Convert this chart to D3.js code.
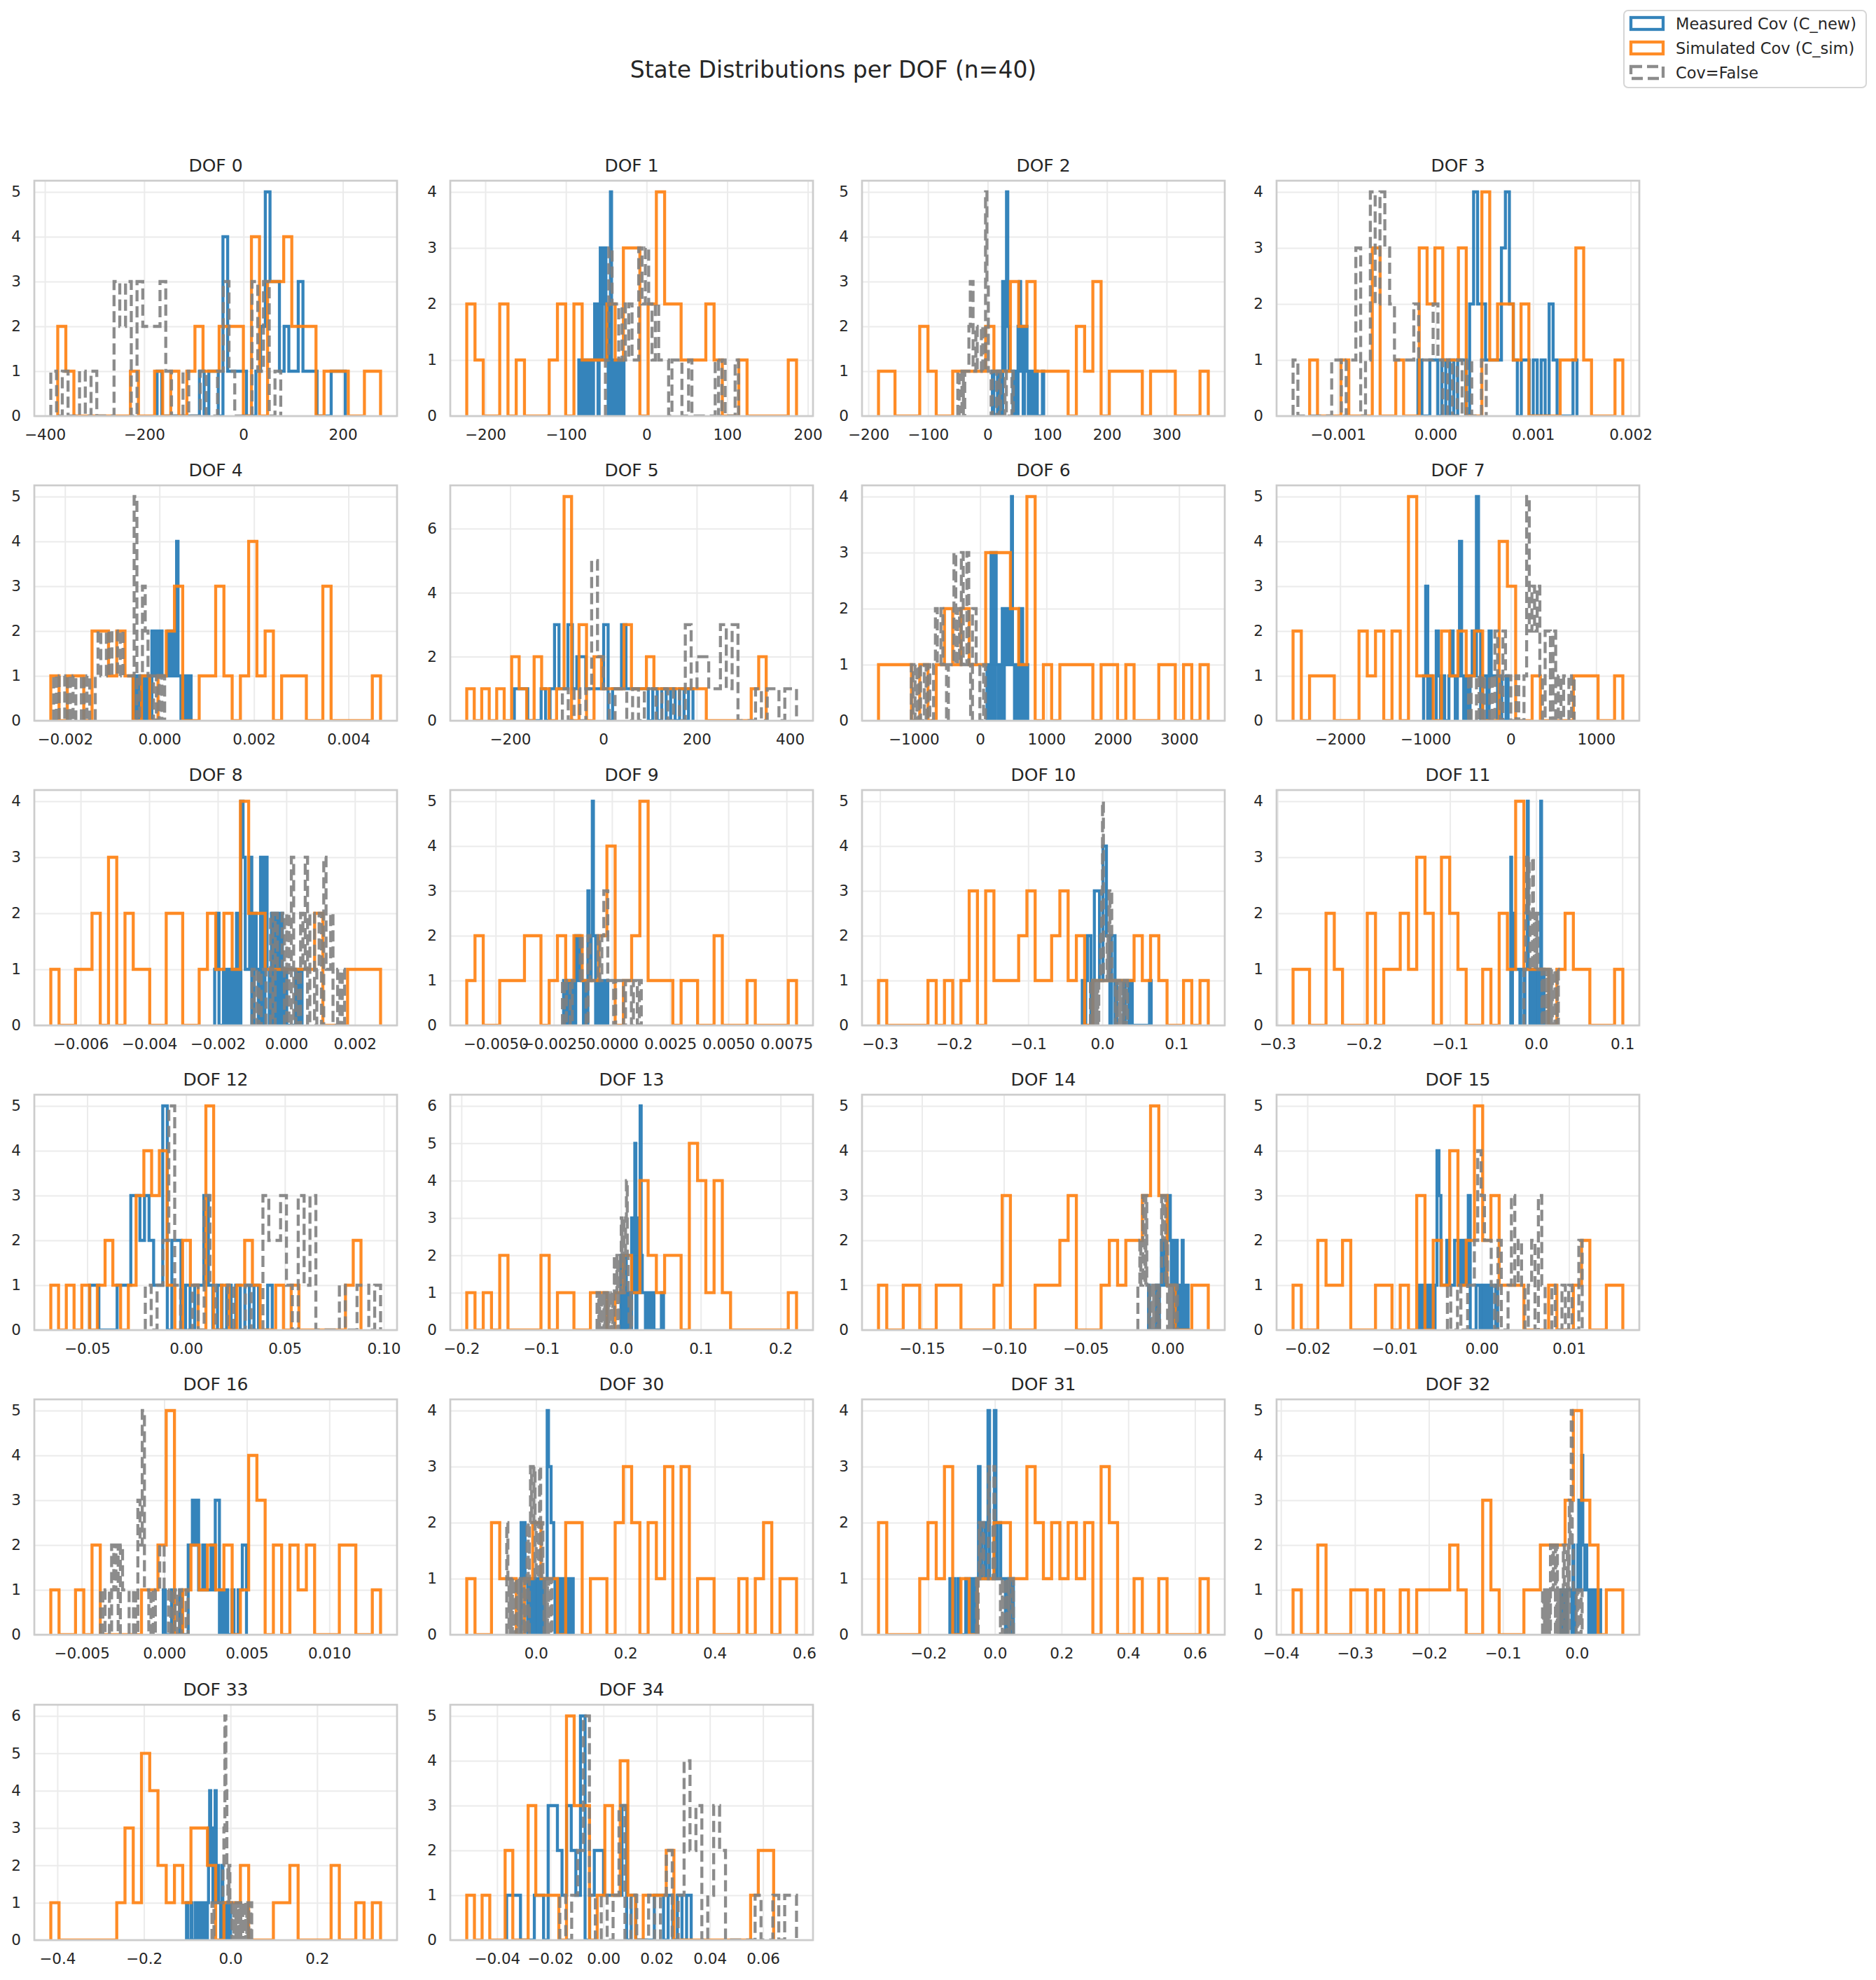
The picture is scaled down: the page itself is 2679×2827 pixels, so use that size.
<!DOCTYPE html>
<html>
<head>
<meta charset="utf-8">
<script src="https://cdn.jsdelivr.net/npm/d3@7"></script>
<style>
  body { margin: 0; background: #fff; }
  svg { display: block; }
  text { font-family: "DejaVu Sans", sans-serif; fill: #262626; }
</style>
</head>
<body>
<div class="chart"></div>
<script>
// panel titles
const dofs = [0, 1, 2, 3, 4, 5, 6, 7, 8, 9, 10, 11, 12, 13, 14, 15, 16, 30, 31, 32, 33, 34];

// x tick spacing per panel (labels are multiples of it)
const xTickSteps = [200, 100, 100, 0.001, 0.002, 200, 1000, 1000, 0.002, 0.0025, 0.1,
    0.1, 0.05, 0.1, 0.05, 0.01, 0.005, 0.2, 0.2, 0.1, 0.2, 0.02];

// Measured Cov (C_new): [min, max] of the samples and counts in 40 bins
const measuredRanges = [[-174, 205], [-84, -28], [8, 94], [-0.00018, 0.00145], [-0.00056, 0.00067],
    [-191, 192], [104, 718], [-1022, -31], [-0.00209, 0.00046], [-0.00208, -0.00018],
    [-0.027, 0.066], [-0.0294, 0.0092], [-0.0487, 0.0436], [0.0, 0.0533], [-0.0116, 0.0126],
    [-0.00715, 0.00182], [-0.00006, 0.00498], [-0.0333, 0.0833], [-0.135, 0.0556],
    [-0.0214, 0.0321], [-0.1017, 0.0], [-0.0364, 0.033]];
const measuredCounts = [
    [1,0,0,0,0,0,0,0,0,1,0,1,1,0,4,1,1,1,1,0,0,1,2,5,3,3,1,2,1,1,3,1,1,1,0,0,0,1,1,1],
    [1,0,1,1,0,0,1,0,1,1,0,1,0,1,2,1,2,0,2,3,1,3,2,3,1,2,0,0,4,1,0,1,0,1,0,1,0,0,1,1],
    [1,0,0,0,1,0,1,0,3,1,3,5,2,1,1,1,0,1,1,0,2,3,1,2,0,1,2,1,0,1,1,0,1,0,1,0,0,0,0,1],
    [1,0,0,1,1,0,1,0,1,0,1,1,0,2,4,2,2,1,1,1,1,3,4,2,1,0,1,1,0,1,0,1,0,2,1,0,0,0,0,1],
    [1,0,1,0,1,0,1,0,1,1,0,1,0,2,1,2,1,2,1,2,1,1,1,1,2,1,1,2,1,1,4,1,1,0,1,0,1,0,0,1],
    [1,1,1,0,0,0,1,0,1,3,1,1,3,1,2,2,1,1,1,1,3,0,1,1,3,1,1,1,1,1,0,1,0,1,0,1,0,1,0,1],
    [1,0,1,0,3,0,3,0,3,1,1,0,1,0,0,2,0,2,1,2,1,2,1,1,4,1,1,0,1,0,1,0,2,0,2,0,1,0,0,1],
    [1,3,0,1,0,0,2,1,0,1,0,0,1,2,1,0,1,4,1,0,1,0,1,2,1,5,2,0,1,1,0,2,1,1,1,0,1,0,0,1],
    [1,2,0,0,1,0,1,0,1,0,2,0,4,3,1,1,3,0,2,1,0,3,0,3,1,0,2,0,2,0,2,0,1,0,0,0,0,1,0,1],
    [1,0,1,1,0,1,0,1,0,1,0,2,1,1,2,1,1,1,0,1,1,0,3,2,1,2,5,2,2,0,1,0,1,1,0,1,0,1,0,1],
    [1,0,1,2,2,0,1,3,3,3,1,1,4,4,2,2,0,2,2,0,1,1,1,1,0,1,1,0,1,0,0,0,0,0,0,0,0,0,0,1],
    [3,0,1,2,1,1,1,1,1,1,1,0,1,1,1,1,0,1,1,1,4,1,1,0,1,1,0,1,0,0,1,1,0,1,0,0,4,1,0,1],
    [1,1,0,0,0,0,1,1,1,3,3,2,3,2,1,1,5,0,2,2,0,1,0,1,1,3,1,0,1,0,1,0,1,0,1,0,1,0,0,1],
    [2,0,0,1,2,0,1,0,1,0,3,1,1,5,0,1,3,1,6,2,1,1,1,0,1,1,0,1,0,1,1,0,0,0,0,0,0,0,1,1],
    [1,0,0,0,0,0,0,0,1,1,0,1,1,2,1,2,1,1,2,2,3,3,2,1,2,2,0,1,2,0,1,1,1,0,2,1,0,1,0,1],
    [1,0,1,0,1,0,1,0,1,4,3,1,1,1,2,1,1,1,2,2,1,2,1,2,1,3,0,0,0,1,1,0,1,0,1,0,1,0,0,1],
    [1,0,0,0,1,0,0,0,1,0,0,0,2,2,3,2,3,1,1,2,1,1,1,2,1,3,3,0,1,0,1,0,0,1,0,0,1,1,2,2],
    [2,1,2,1,1,0,1,0,1,0,1,0,1,1,0,1,1,0,1,1,4,3,3,2,2,1,0,0,1,0,1,0,1,1,0,1,0,1,0,1],
    [1,0,1,0,0,1,0,0,0,0,1,0,0,1,0,1,0,1,3,1,2,2,1,2,4,1,1,1,4,1,2,2,1,1,1,0,1,1,0,1],
    [1,0,1,1,0,0,1,1,1,1,1,0,2,0,1,1,1,2,3,1,3,4,2,2,1,2,1,1,0,1,0,1,0,0,1,0,0,1,0,1],
    [1,0,0,0,1,0,0,0,1,0,1,1,0,1,1,0,1,1,0,1,3,4,2,3,1,2,4,1,2,1,1,0,2,1,0,1,0,0,1,1],
    [1,1,1,0,0,0,1,1,0,3,3,2,1,3,2,1,5,0,1,2,2,1,1,1,1,3,0,1,0,0,0,0,1,1,0,1,0,1,0,1]
];

// Simulated Cov (C_sim)
const simulatedRanges = [[-374, 276], [-223, 186], [-183, 370], [-0.00129, 0.00192], [-0.0023, 0.00468],
    [-293, 349], [-1532, 3440], [-2551, 1313], [-0.00687, 0.00275], [-0.00624, 0.00793],
    [-0.302, 0.143], [-0.282, 0.1006], [-0.0684, 0.0885], [-0.1933, 0.22], [-0.1765, 0.0249],
    [-0.02164, 0.01618], [-0.00687, 0.0131], [-0.155, 0.583], [-0.349, 0.64],
    [-0.3836, 0.0621], [-0.4152, 0.3466], [-0.0514, 0.064]];
const simulatedCounts = [
    [2,1,0,0,0,0,0,0,0,1,0,0,1,0,1,0,1,2,1,1,2,2,2,0,4,0,3,3,4,2,2,2,0,1,1,1,0,0,1,1],
    [2,1,0,0,2,0,1,0,0,0,1,2,0,2,1,1,1,2,1,3,3,0,2,4,2,2,1,1,1,2,1,0,0,1,0,0,0,0,0,1],
    [1,1,0,0,0,2,1,0,0,1,1,1,1,2,1,1,3,2,3,1,1,1,1,0,2,1,3,0,1,1,1,1,0,1,1,1,0,0,0,1],
    [1,0,0,0,1,0,0,0,3,0,0,1,0,0,3,2,3,1,1,3,0,0,4,1,2,2,1,2,0,0,0,0,1,1,3,1,0,0,0,1],
    [1,0,1,1,0,2,2,1,2,1,0,1,0,1,2,3,0,0,1,1,3,1,0,1,4,1,2,0,1,1,1,0,0,3,0,0,0,0,0,1],
    [1,0,1,0,1,0,2,1,0,2,1,0,1,7,0,3,0,2,1,1,1,3,1,1,2,1,1,1,1,1,1,1,0,0,0,0,0,0,1,2],
    [1,1,1,1,0,1,0,1,2,1,2,1,1,3,3,3,2,1,4,0,1,0,1,1,1,1,0,1,1,0,1,0,0,0,1,1,0,1,0,1],
    [2,0,1,1,1,0,0,0,2,1,2,0,2,0,5,1,1,0,2,1,2,1,2,0,0,4,3,0,0,1,0,0,0,0,1,1,1,0,0,1],
    [1,0,0,1,1,2,0,3,0,2,1,1,0,0,2,2,0,0,1,2,1,2,1,4,2,2,1,1,1,1,1,1,2,0,0,0,1,1,1,1],
    [1,2,0,0,1,1,1,2,2,0,1,2,1,2,1,1,2,4,0,1,2,5,1,1,1,0,1,1,0,0,2,0,0,0,1,0,0,0,0,1],
    [1,0,0,0,0,0,1,0,1,0,1,3,0,3,1,1,1,2,3,1,1,2,3,1,2,0,1,1,1,1,1,2,1,2,1,0,0,1,0,1],
    [1,1,0,0,2,1,0,0,0,2,0,1,1,2,1,3,2,0,3,2,1,0,0,1,0,2,1,4,1,1,1,0,1,2,1,1,0,0,0,1],
    [1,0,1,0,1,0,1,2,1,0,1,3,4,3,4,1,0,2,1,0,5,0,1,0,1,2,1,0,0,1,0,1,0,0,0,0,0,0,1,2],
    [1,0,1,0,2,0,0,0,0,2,0,1,1,0,0,1,1,0,1,2,1,4,2,1,2,2,0,5,4,1,4,1,0,0,0,0,0,0,0,1],
    [1,0,0,1,1,0,0,1,1,1,0,0,0,0,1,3,0,0,0,1,1,1,2,3,0,0,0,1,2,1,2,2,3,5,3,1,0,0,1,1],
    [1,0,0,2,1,1,2,0,0,0,1,1,0,1,0,3,0,2,1,4,1,2,5,2,3,1,1,1,0,0,0,1,0,0,1,2,0,0,1,1],
    [1,0,0,1,0,2,0,0,0,0,0,1,1,2,5,0,1,2,1,2,1,2,0,1,4,3,0,2,0,2,1,2,0,0,0,2,2,0,0,1],
    [1,0,0,2,1,1,0,1,2,1,1,0,2,2,0,1,1,0,2,3,2,0,2,1,3,0,3,0,1,1,0,0,0,1,0,1,2,0,1,1],
    [2,0,0,0,0,1,2,1,3,0,1,0,1,1,2,2,1,1,3,2,1,2,1,2,1,2,0,3,2,0,0,1,0,0,1,0,0,0,0,1],
    [1,0,0,2,0,0,0,1,1,0,1,0,0,1,0,1,1,1,1,2,1,0,0,3,1,0,0,0,1,1,2,2,2,3,5,3,2,0,1,1],
    [1,0,0,0,0,0,0,0,1,3,1,5,4,2,1,2,1,3,3,2,0,1,1,2,0,0,0,1,1,2,0,0,0,0,2,0,0,1,0,1],
    [1,0,1,0,0,2,0,0,3,1,1,1,0,5,3,3,0,1,3,1,4,1,0,1,1,1,2,0,0,0,0,0,0,0,0,0,0,1,2,2]
];

// Cov=False
const covFalseRanges = [[-388, 75], [-51, 114], [-50, 43], [-0.00146, 0.00052], [-0.00224, 0.00011],
    [-88, 414], [-1037, 80], [-495, 743], [-0.001, 0.0017], [-0.00213, 0.00126],
    [-0.016, 0.034], [-0.0141, 0.0258], [-0.0206, 0.0984], [-0.03, 0.0133], [-0.0181, 0.0061],
    [-0.00394, 0.01152], [-0.00385, 0.00145], [-0.0655, 0.0357], [-0.0556, 0.0556],
    [-0.0464, 0.0071], [-0.0429, 0.049], [-0.0164, 0.0726]];
const covFalseCounts = [
    [1,0,1,0,0,1,0,1,0,0,0,3,2,3,0,3,2,2,2,3,1,0,0,1,0,0,1,0,0,1,3,1,0,0,0,3,1,3,0,1],
    [1,3,2,2,1,2,1,2,1,1,3,2,3,2,1,2,1,1,1,0,1,1,1,0,0,1,0,0,0,0,0,0,0,1,0,1,0,0,0,1],
    [1,0,0,1,0,1,1,1,2,3,3,1,1,2,1,1,1,2,1,1,5,3,1,1,0,1,1,1,0,0,1,0,0,0,1,0,0,0,0,1],
    [1,0,0,0,0,0,0,0,1,1,0,1,1,3,0,1,4,2,4,3,2,1,1,1,1,2,1,1,1,2,1,0,1,0,1,0,1,0,0,1],
    [1,0,1,1,0,1,0,1,0,0,1,0,1,0,0,1,2,1,1,2,1,2,2,1,2,1,1,1,1,5,0,1,3,2,1,1,0,1,0,1],
    [1,0,1,0,1,5,2,1,0,1,1,0,1,0,1,1,0,1,0,1,0,3,1,2,2,1,1,3,1,3,0,0,0,1,0,1,1,0,1,1],
    [1,0,1,0,1,0,0,1,0,1,0,0,1,2,1,1,2,1,1,0,1,1,1,3,1,2,1,3,1,1,3,1,0,2,2,1,1,0,0,1],
    [1,0,0,1,0,1,0,0,1,0,2,1,0,2,1,1,0,0,1,0,0,1,5,2,3,2,3,1,0,2,2,0,2,0,1,0,1,1,0,1],
    [1,0,1,0,1,1,0,0,2,0,2,1,1,2,0,2,0,3,0,1,0,2,1,3,0,2,2,0,1,2,0,3,1,1,2,0,0,1,0,1],
    [1,0,1,1,0,1,1,1,1,2,1,1,0,2,1,1,1,1,2,1,2,3,3,1,1,1,0,1,1,1,1,0,1,1,1,0,1,1,0,1],
    [1,0,0,1,0,1,0,1,0,1,1,2,3,5,1,1,1,1,2,1,3,1,3,1,1,1,1,0,1,1,0,1,0,1,0,0,1,0,0,1],
    [1,1,2,3,2,3,2,1,1,1,3,2,1,2,1,2,1,1,1,1,1,0,1,0,1,0,1,0,0,1,0,0,1,0,0,0,1,0,0,1],
    [1,0,1,2,5,1,0,0,1,0,3,1,0,0,1,0,0,1,0,0,3,2,2,3,1,0,3,1,3,0,0,0,0,1,0,0,1,1,0,1],
    [1,0,1,0,0,1,0,0,1,0,1,0,1,0,1,0,0,1,0,0,2,1,1,2,0,2,2,1,3,2,3,1,2,3,4,2,1,0,0,1],
    [1,1,2,1,1,3,2,1,3,1,1,0,1,0,0,1,0,1,0,0,1,0,1,1,3,2,2,3,1,2,0,1,0,1,0,1,0,0,0,1],
    [1,0,0,1,0,0,1,1,2,4,3,2,2,1,0,2,0,0,1,3,1,2,1,0,1,2,0,3,1,0,0,1,0,0,1,0,1,0,0,2],
    [1,0,1,1,0,2,1,2,0,2,1,1,1,0,0,1,0,3,2,5,1,1,0,1,0,1,1,2,2,1,1,0,1,0,1,0,1,0,0,1],
    [2,1,0,1,0,1,0,0,1,0,1,0,1,0,0,1,0,1,2,0,2,3,2,2,3,1,2,2,1,3,1,2,1,0,1,0,1,0,0,1],
    [1,0,1,2,1,1,1,2,1,1,1,1,1,3,2,2,2,2,1,3,1,1,1,1,1,1,0,0,1,0,1,0,1,0,0,1,0,0,0,1],
    [1,0,1,0,1,0,1,0,2,2,1,2,2,0,2,0,1,0,1,0,1,2,0,1,0,2,0,3,2,5,2,1,1,1,0,1,0,0,0,1],
    [1,0,1,1,1,1,1,1,1,1,1,2,3,6,4,2,1,2,1,1,0,1,0,0,1,0,1,0,1,0,0,1,0,0,1,0,1,0,0,1],
    [1,0,1,2,5,1,0,1,0,1,3,0,1,0,0,1,0,1,2,0,1,4,2,3,0,1,3,2,0,0,0,0,0,1,0,0,1,0,1,1]
];

const legendLabels = ['Measured Cov (C_new)', 'Simulated Cov (C_sim)', 'Cov=False'];

const fullWidth = 2679;
const fullHeight = 2827;
const colLeft = [49, 643, 1231, 1823];
const rowTop = [258, 693, 1128, 1563, 1998, 2434];
const pw = 518, ph = 336;

const series = [
    { ranges: measuredRanges, counts: measuredCounts, color: '#1f77b4', dash: null },
    { ranges: simulatedRanges, counts: simulatedCounts, color: '#ff7f0e', dash: null },
    { ranges: covFalseRanges, counts: covFalseCounts, color: '#808080', dash: '16,7' }
];

const svg = d3.select('.chart')
    .append('svg')
        .attr('width', fullWidth)
        .attr('height', fullHeight);

svg.append('text')
    .attr('x', 1190)
    .attr('y', 111)
    .attr('text-anchor', 'middle')
    .style('font-size', '33px')
    .text('State Distributions per DOF (n=40)');

// matplotlib style labels: unicode minus, decimals from the step
function tickFormat(step) {
    const s = String(step);
    const dec = s.includes('.') ? s.split('.')[1].length : 0;
    return v => (v < 0 ? '\u2212' : '') + Math.abs(v).toFixed(dec);
}

// outline of a step histogram, in data units
function stepPoints(range, counts) {
    const n = counts.length;
    const edge = k => range[0] + (range[1] - range[0]) * k / n;
    const pts = [[edge(0), 0]];
    counts.forEach((c, k) => {
        pts.push([edge(k), c]);
        pts.push([edge(k + 1), c]);
    });
    pts.push([edge(n), 0]);
    return pts;
}

dofs.forEach((dof, i) => {
    const g = svg.append('g')
        .attr('transform', `translate(${colLeft[i % 4]}, ${rowTop[Math.floor(i / 4)]})`);

    const lo = d3.min(series, s => s.ranges[i][0]);
    const hi = d3.max(series, s => s.ranges[i][1]);
    const pad = (hi - lo) * 0.05;
    const xScale = d3.scaleLinear()
        .domain([lo - pad, hi + pad])
        .range([0, pw]);

    const maxCount = d3.max(series, s => d3.max(s.counts[i]));
    const yScale = d3.scaleLinear()
        .domain([0, maxCount * 1.05])
        .range([ph, 0]);

    const step = xTickSteps[i];
    const xTicks = d3.range(Math.ceil((lo - pad) / step - 1e-9), Math.floor((hi + pad) / step + 1e-9) + 1)
        .map(k => k * step);
    const yStep = maxCount > 6 ? 2 : 1;
    const yTicks = d3.range(0, maxCount + 0.5, yStep);

    // grid
    g.append('g')
        .attr('transform', `translate(0, ${ph})`)
        .call(d3.axisBottom(xScale).tickValues(xTicks).tickSize(-ph).tickFormat(''))
        .call(a => a.select('.domain').remove())
        .selectAll('line')
            .attr('stroke', '#ebebeb')
            .attr('stroke-width', 2);
    g.append('g')
        .call(d3.axisLeft(yScale).tickValues(yTicks).tickSize(-pw).tickFormat(''))
        .call(a => a.select('.domain').remove())
        .selectAll('line')
            .attr('stroke', '#ebebeb')
            .attr('stroke-width', 2);

    // tick labels
    g.append('g')
        .attr('transform', `translate(0, ${ph})`)
        .call(d3.axisBottom(xScale).tickValues(xTicks).tickSize(0).tickPadding(19).tickFormat(tickFormat(step)))
        .call(a => a.select('.domain').remove())
        .selectAll('text')
            .style('font-size', '21.5px')
            .attr('fill', '#262626');
    g.append('g')
        .call(d3.axisLeft(yScale).tickValues(yTicks).tickSize(0).tickPadding(19).tickFormat(d3.format('d')))
        .call(a => a.select('.domain').remove())
        .selectAll('text')
            .style('font-size', '21.5px')
            .attr('fill', '#262626');

    const clipId = 'clip' + i;
    g.append('clipPath').attr('id', clipId)
        .append('rect').attr('width', pw).attr('height', ph);

    const line = d3.line()
        .x(d => xScale(d[0]))
        .y(d => yScale(d[1]));

    series.forEach(s => {
        g.append('path')
            .attr('clip-path', `url(#${clipId})`)
            .attr('d', line(stepPoints(s.ranges[i], s.counts[i])))
            .attr('fill', 'none')
            .attr('stroke', s.color)
            .attr('stroke-opacity', 0.9)
            .attr('stroke-width', 4.3)
            .attr('stroke-linejoin', 'miter')
            .attr('stroke-dasharray', s.dash);
    });

    // spines
    g.append('rect')
        .attr('width', pw)
        .attr('height', ph)
        .attr('fill', 'none')
        .attr('stroke', '#cccccc')
        .attr('stroke-width', 2.7);

    g.append('text')
        .attr('x', pw / 2)
        .attr('y', -13)
        .attr('text-anchor', 'middle')
        .style('font-size', '25px')
        .text('DOF ' + dof);
});

// legend
const legend = svg.append('g').attr('transform', 'translate(2319, 15)');
legend.append('rect')
    .attr('width', 346)
    .attr('height', 110)
    .attr('rx', 6)
    .attr('fill', '#fff')
    .attr('fill-opacity', 0.8)
    .attr('stroke', '#d6d6d6')
    .attr('stroke-width', 2);

legendLabels.forEach((label, k) => {
    const s = series[k];
    const row = legend.append('g').attr('transform', `translate(0, ${19 + k * 35})`);
    row.append('rect')
        .attr('x', 10)
        .attr('y', -9)
        .attr('width', 46)
        .attr('height', 17)
        .attr('fill', 'none')
        .attr('stroke', s.color)
        .attr('stroke-opacity', 0.9)
        .attr('stroke-width', 4.3)
        .attr('stroke-dasharray', s.dash);
    row.append('text')
        .attr('x', 74)
        .attr('y', 8)
        .style('font-size', '22.5px')
        .text(label);
});
</script>
</body>
</html>
